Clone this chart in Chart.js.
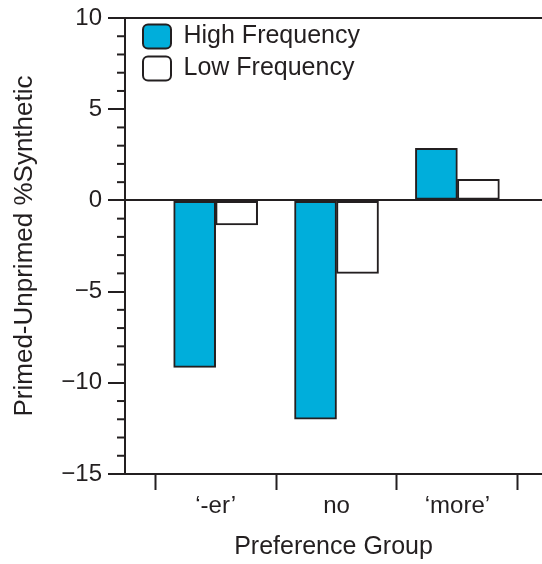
<!DOCTYPE html>
<html><head><meta charset="utf-8">
<script src="https://cdn.jsdelivr.net/npm/chart.js@4/dist/chart.umd.min.js"></script>
<style>html,body{margin:0;padding:0;background:#fff}#wrap{width:542px;height:564px}</style>
</head><body><div id="wrap"><canvas id="c" width="542" height="564"></canvas></div>
<script>
const categories = ["\u2018-er\u2019", "no", "\u2018more\u2019"];
const seriesNames = ["High Frequency", "Low Frequency"];
const highFrequency = [-9.15, -12.0, 2.85];
const lowFrequency = [-1.35, -4.0, 1.15];
const yMin = -15, yMax = 10, yMajorStep = 5;

const ink = '#231f20';
const clear = 'rgba(0,0,0,0)';
const fam = "'Liberation Sans', Arial, Helvetica, sans-serif";
const tickFont = { family: fam, size: 24, lineHeight: 1 };
const labelFont = { family: fam, size: 25 };
const yTitleFont = { family: fam, size: 26 };

const minorTicks = {
  id: 'minorTicks',
  afterDraw(chart) {
    const s = chart.scales.y, ctx = chart.ctx;
    ctx.save(); ctx.strokeStyle = ink; ctx.lineWidth = 2;
    s.ticks.forEach(t => {
      if (t.value % yMajorStep !== 0) {
        const y = s.getPixelForValue(t.value);
        ctx.beginPath(); ctx.moveTo(s.right - 8, y); ctx.lineTo(s.right, y); ctx.stroke();
      }
    });
    ctx.restore();
  }
};
const legendShift = {
  id: 'legendShift',
  afterLayout(chart) { const l = chart.legend; l.left += 11; l.right += 11; l.top += 17; l.bottom += 17; }
};

const xTickValues = [];
for (let i = 0; i <= categories.length; i++) { xTickValues.push(i - 0.5); if (i < categories.length) xTickValues.push(i); }

new Chart(document.getElementById('c'), {
  type: 'bar',
  data: {
    datasets: [
      { label: seriesNames[0], data: highFrequency.map((y, i) => ({ x: i, y })), backgroundColor: '#00aedb', borderColor: ink, borderWidth: 2, borderSkipped: false, barThickness: 42 },
      { label: seriesNames[1], data: lowFrequency.map((y, i) => ({ x: i, y })), backgroundColor: '#ffffff', borderColor: ink, borderWidth: 2, borderSkipped: false, barThickness: 42 }
    ]
  },
  options: {
    responsive: false, animation: false, devicePixelRatio: 1,
    layout: { padding: { top: 16, left: 0, right: 0, bottom: 0 } },
    plugins: {
      legend: {
        position: 'chartArea', align: 'start',
        labels: { font: labelFont, color: ink, boxWidth: 28, boxHeight: 24, padding: 7, useBorderRadius: true, borderRadius: 5 }
      },
      tooltip: { enabled: false }
    },
    scales: {
      x: {
        type: 'linear', min: -0.75, max: 2.7, offset: false,
        afterBuildTicks: s => { s.ticks = xTickValues.map(v => ({ value: v })); },
        ticks: { autoSkip: false, maxRotation: 0, font: tickFont, color: ink, padding: 4,
          callback: v => Number.isInteger(v) ? categories[v] : '' },
        grid: { drawOnChartArea: false, offset: false, tickLength: 16, tickWidth: 2,
          tickColor: ctx => (ctx.tick && !Number.isInteger(ctx.tick.value)) ? ink : clear },
        border: { display: true, color: ink, width: 2 },
        title: { display: true, text: 'Preference Group', font: labelFont, color: ink, padding: { top: 0, bottom: 2 } },
        afterFit: s => { s.height = 90; }
      },
      y: {
        min: yMin, max: yMax,
        ticks: { stepSize: 1, autoSkip: false, font: tickFont, color: ink, padding: 6,
          callback: v => v % yMajorStep === 0 ? (v < 0 ? '\u2212' + Math.abs(v) : String(v)) : '' },
        grid: { drawOnChartArea: true, lineWidth: 2, tickLength: 17, tickWidth: 2,
          color: ctx => (ctx.tick && (ctx.tick.value === 0 || ctx.tick.value === yMax)) ? ink : clear,
          tickColor: ctx => (ctx.tick && ctx.tick.value % yMajorStep === 0) ? ink : clear },
        border: { display: true, color: ink, width: 2 },
        title: { display: true, text: 'Primed-Unprimed %Synthetic', font: yTitleFont, color: ink, padding: { top: 9, bottom: 0 } },
        afterFit: s => { s.width = 125; }
      }
    }
  },
  plugins: [minorTicks, legendShift]
});
</script></body></html>
